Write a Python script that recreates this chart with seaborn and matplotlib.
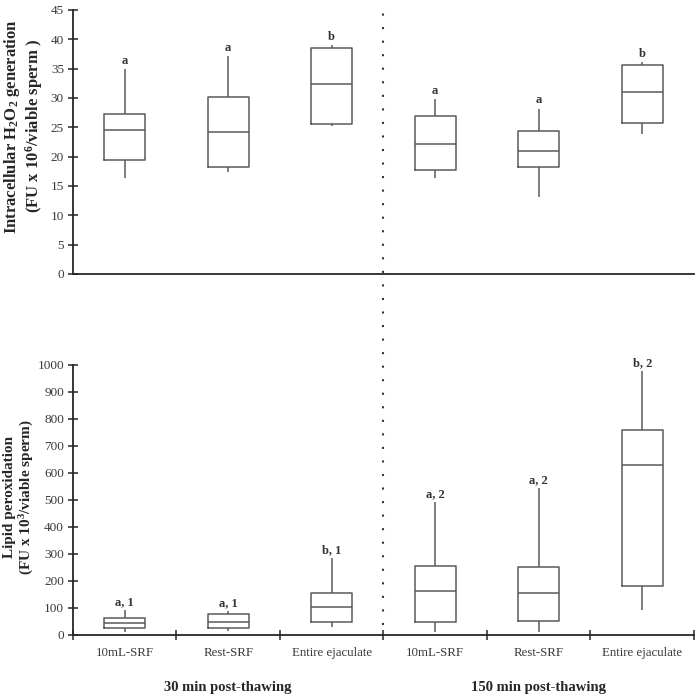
import numpy as np
import pandas as pd
import matplotlib
matplotlib.use("Agg")
import matplotlib.pyplot as plt
import matplotlib.transforms as mtransforms
from matplotlib.lines import Line2D
import seaborn as sns

# categories and groups
categories = ["10mL-SRF", "Rest-SRF", "Entire ejaculate"]
times = ["30 min post-thawing", "150 min post-thawing"]
tick_labels = categories * 2

# intracellular H2O2 (five-number summary per box)
h2o2_min = [16.4, 17.4, 25.2, 16.3, 13.2, 23.8]
h2o2_q1 = [19.4, 18.3, 25.5, 17.7, 18.3, 25.7]
h2o2_med = [24.5, 24.2, 32.3, 22.1, 20.9, 31.1]
h2o2_q3 = [27.2, 30.1, 38.6, 27.0, 24.3, 35.7]
h2o2_max = [34.9, 37.2, 39.1, 29.8, 28.2, 36.1]
h2o2_letters = ["a", "a", "b", "a", "a", "b"]

# lipid peroxidation
lpo_min = [12, 15, 31, 12, 12, 93]
lpo_q1 = [25, 25, 49, 49, 53, 183]
lpo_med = [46, 49, 102, 164, 157, 628]
lpo_q3 = [62, 76, 157, 257, 253, 759]
lpo_max = [93, 89, 284, 491, 543, 978]
lpo_letters = ["a, 1", "a, 1", "b, 1", "a, 2", "a, 2", "b, 2"]


def long_frame(*stats):
    # 5 points per box -> numpy quartiles hit q1/median/q3 exactly
    rows = []
    for i in range(len(stats[0])):
        for s in stats:
            rows.append({"box": i, "value": s[i]})
    return pd.DataFrame(rows)


df_h2o2 = long_frame(h2o2_min, h2o2_q1, h2o2_med, h2o2_q3, h2o2_max)
df_lpo = long_frame(lpo_min, lpo_q1, lpo_med, lpo_q3, lpo_max)

sns.set_style("ticks")
plt.rcParams["font.family"] = ["Liberation Serif", "DejaVu Serif"]
plt.rcParams["mathtext.default"] = "regular"

fig = plt.figure(figsize=(6.97, 6.97), dpi=100)
ax1 = fig.add_axes([0.1047, 0.6069, 0.891, 0.3788])
ax2 = fig.add_axes([0.1047, 0.0890, 0.891, 0.3874])

box_kw = dict(x="box", y="value", order=list(range(6)), width=0.4, whis=np.inf,
              showcaps=False, fill=False, color="#5a5a5a", linewidth=1.1,
              fliersize=0)

sns.boxplot(data=df_h2o2, ax=ax1, **box_kw)
sns.boxplot(data=df_lpo, ax=ax2, **box_kw)

for ax, tops, letters in [(ax1, h2o2_max, h2o2_letters), (ax2, lpo_max, lpo_letters)]:
    for i, (top, lab) in enumerate(zip(tops, letters)):
        ax.annotate(lab, xy=(i, top), xytext=(0, 1.5), textcoords="offset points",
                    ha="center", va="bottom", fontsize=9, fontweight="bold",
                    color="#333333", annotation_clip=False)

for ax in (ax1, ax2):
    ax.set_xlim(-0.5, 5.5)
    ax.set_xlabel("")
    sns.despine(ax=ax)
    ax.spines["left"].set_linewidth(1.3)
    ax.spines["bottom"].set_linewidth(1.3)
    ax.tick_params(axis="y", direction="inout", length=7, width=1.1,
                   labelsize=9.5, labelcolor="#3a3a3a", pad=3)

ax1.set_ylim(0, 45)
ax1.set_yticks(np.arange(0, 46, 5))
ax1.set_xticks([])

ax2.set_ylim(0, 1000)
ax2.set_yticks(np.arange(0, 1001, 100))
ax2.set_xticks(range(6))
ax2.set_xticklabels(tick_labels, fontsize=9.3, color="#3a3a3a")
ax2.set_xticks(np.arange(-0.5, 6, 1), minor=True)
ax2.tick_params(axis="x", which="major", length=0, pad=9)
ax2.tick_params(axis="x", which="minor", direction="inout", length=7, width=1.1)

ax1.set_ylabel("Intracellular H$_2$O$_2$ generation\n(FU x 10$^6$/viable sperm )",
               fontsize=12, fontweight="bold", linespacing=1.05)
ax1.yaxis.set_label_coords(-0.045, 0.56)
ax2.set_ylabel("Lipid peroxidation\n(FU x 10$^3$/viable sperm)",
               fontsize=11, fontweight="bold", linespacing=1.15)
ax2.yaxis.set_label_coords(-0.06, 0.51)

# group labels below the category names
for gx, name in zip([1, 4], times):
    ax2.text(gx, -0.196, name, transform=ax2.get_xaxis_transform(),
             ha="center", va="center", fontsize=10.5, fontweight="bold")

# dotted separator running through both panels
trans = mtransforms.blended_transform_factory(ax2.transData, fig.transFigure)
fig.add_artist(Line2D([2.5, 2.5], [0.104, 0.996], transform=trans,
                      color="#333333", linewidth=1.5, linestyle=(0, (1, 5.5))))

fig.savefig("out.png", dpi=100)
